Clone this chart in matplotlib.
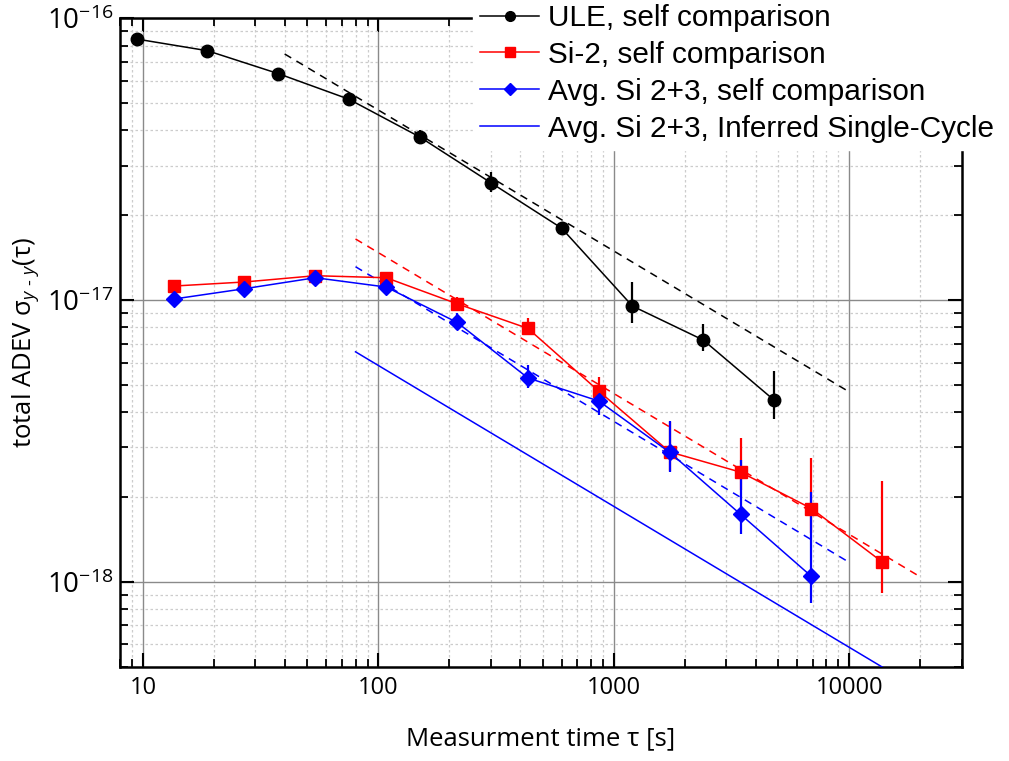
import matplotlib
matplotlib.use("Agg")
import matplotlib.pyplot as plt
import numpy as np
from matplotlib.lines import Line2D
from matplotlib.ticker import LogLocator, FixedLocator, FuncFormatter, NullFormatter

plt.rcParams['font.family'] = ['Open Sans', 'DejaVu Sans']
plt.rcParams['mathtext.fontset'] = 'custom'
plt.rcParams['mathtext.rm'] = 'Open Sans'
plt.rcParams['mathtext.it'] = 'Open Sans:italic'
plt.rcParams['mathtext.bf'] = 'Open Sans:bold'

# ---------------- data ----------------
ule_tau = [9.4, 18.8, 37.6, 75, 150, 300, 600, 1200, 2400, 4800]
ule_adev = [8.44e-17, 7.67e-17, 6.36e-17, 5.16e-17, 3.79e-17, 2.61e-17, 1.80e-17, 9.52e-18, 7.21e-18, 4.41e-18]
ule_lo = [8.44e-17, 7.67e-17, 6.36e-17, 5.05e-17, 3.61e-17, 2.42e-17, 1.715e-17, 8.30e-18, 6.61e-18, 3.78e-18]
ule_hi = [8.44e-17, 7.67e-17, 6.36e-17, 5.28e-17, 4.01e-17, 2.85e-17, 1.89e-17, 1.16e-17, 8.19e-18, 5.60e-18]

si2_tau = [13.5, 27, 54, 108, 216, 432, 864, 1728, 3456, 6912, 13824]
si2_adev = [1.121e-17, 1.159e-17, 1.220e-17, 1.200e-17, 9.70e-18, 7.93e-18, 4.75e-18, 2.89e-18, 2.45e-18, 1.82e-18, 1.175e-18]
si2_lo = [1.121e-17, 1.159e-17, 1.220e-17, 1.200e-17, 9.37e-18, 7.51e-18, 4.35e-18, 2.48e-18, 2.12e-18, 1.485e-18, 9.1e-19]
si2_hi = [1.121e-17, 1.159e-17, 1.220e-17, 1.200e-17, 1.027e-17, 8.61e-18, 5.32e-18, 3.70e-18, 3.23e-18, 2.75e-18, 2.28e-18]

avg_tau = [13.5, 27, 54, 108, 216, 432, 864, 1728, 3456, 6912]
avg_adev = [1.008e-17, 1.097e-17, 1.200e-17, 1.112e-17, 8.33e-18, 5.29e-18, 4.38e-18, 2.88e-18, 1.735e-18, 1.045e-18]
avg_lo = [1.008e-17, 1.097e-17, 1.200e-17, 1.112e-17, 7.82e-18, 4.86e-18, 3.91e-18, 2.46e-18, 1.474e-18, 8.38e-19]
avg_hi = [1.008e-17, 1.097e-17, 1.200e-17, 1.112e-17, 8.97e-18, 5.88e-18, 4.79e-18, 3.72e-18, 2.70e-18, 2.09e-18]

# fit lines (endpoints)
ule_fit_tau = [40, 10000]
ule_fit_adev = [7.47e-17, 4.72e-18]
si2_fit_tau = [80, 20000]
si2_fit_adev = [1.647e-17, 1.042e-18]
avg_fit_tau = [80, 9800]
avg_fit_adev = [1.313e-17, 1.184e-18]
single_tau = [80, 20000]
single_adev = [6.55e-18, 4.14e-19]

labels = ["ULE, self comparison", "Si-2, self comparison",
          "Avg. Si 2+3, self comparison", "Avg. Si 2+3, Inferred Single-Cycle"]

x_ticks = [10, 100, 1000, 10000]
x_tick_labels = ["10", "100", "1000", "10000"]
y_ticks = [1e-18, 1e-17, 1e-16]
y_tick_labels = [r"$10^{-18}$", r"$10^{-17}$", r"$10^{-16}$"]

# ---------------- plot ----------------
fig = plt.figure(figsize=(10.09, 7.61), dpi=100)
ax = fig.add_axes([0.119, 0.124, 0.834, 0.852])
ax.set_xscale('log')
ax.set_yscale('log')
ax.set_xlim(8, 30000)
ax.set_ylim(5e-19, 1e-16)

def yerr(v, lo, hi):
    v = np.array(v); return [v - np.array(lo), np.array(hi) - v]

ax.errorbar(ule_tau, ule_adev, yerr=yerr(ule_adev, ule_lo, ule_hi), fmt='-o', color='black',
            ms=9, lw=1.1, elinewidth=1.6, capsize=0, zorder=5)
ax.errorbar(si2_tau, si2_adev, yerr=yerr(si2_adev, si2_lo, si2_hi), fmt='-s', color='#ff0000',
            ms=8, lw=1.1, elinewidth=1.6, capsize=0, zorder=4)
ax.errorbar(avg_tau, avg_adev, yerr=yerr(avg_adev, avg_lo, avg_hi), fmt='-D', color='#0000ff',
            ms=8.5, lw=1.1, elinewidth=1.6, capsize=0, zorder=4)

ax.plot(ule_fit_tau, ule_fit_adev, ls=(0, (5, 4)), color='black', lw=1.1, zorder=3)
ax.plot(si2_fit_tau, si2_fit_adev, ls=(0, (5, 4)), color='#ff0000', lw=1.1, zorder=3)
ax.plot(avg_fit_tau, avg_fit_adev, ls=(0, (5, 4)), color='#0000ff', lw=1.1, zorder=3)
ax.plot(single_tau, single_adev, ls='-', color='#0000ff', lw=1.1, zorder=3)

# grid
ax.set_axisbelow(True)
ax.grid(which='major', color='#8a8a8a', lw=1.0, ls='-')
ax.grid(which='minor', color='#cccccc', lw=0.9, ls=(0, (2, 2)))

ax.xaxis.set_major_locator(FixedLocator(x_ticks))
ax.xaxis.set_major_formatter(FuncFormatter(lambda v, p: x_tick_labels[x_ticks.index(v)] if v in x_ticks else ""))
ax.xaxis.set_minor_locator(LogLocator(base=10, subs=np.arange(2, 10)))
ax.xaxis.set_minor_formatter(NullFormatter())
ax.yaxis.set_major_locator(FixedLocator(y_ticks))
ax.set_yticklabels(y_tick_labels)
ax.yaxis.set_minor_locator(LogLocator(base=10, subs=np.arange(2, 10), numticks=20))
ax.yaxis.set_minor_formatter(NullFormatter())

ax.tick_params(which='both', direction='in', top=True, right=True)
ax.tick_params(which='major', length=10, width=1.5)
ax.tick_params(which='minor', length=6, width=1.3)
ax.tick_params(axis='x', labelsize=17, pad=7)
ax.tick_params(axis='y', labelsize=20, pad=5)
for s in ax.spines.values():
    s.set_linewidth(1.8)

ax.set_xlabel(r"Measurment time τ [s]", fontsize=18.5, labelpad=19)
ax.set_ylabel("total ADEV $\\mathrm{\\sigma}_{y\\ \u2010\\ y}$(τ)", fontsize=18.5, labelpad=4)

handles = [
    Line2D([], [], color='black', marker='o', ms=7, lw=1.1),
    Line2D([], [], color='#ff0000', marker='s', ms=6.5, lw=1.1),
    Line2D([], [], color='#0000ff', marker='D', ms=6.5, lw=1.1),
    Line2D([], [], color='#0000ff', lw=1.1),
]
leg = fig.legend(handles, labels, loc='upper left', bbox_to_anchor=(0.4684, 1.0046),
                 frameon=True, facecolor='white', edgecolor='white', framealpha=1,
                 fancybox=False, prop={'family': 'Liberation Sans', 'size': 21.4},
                 handlelength=2.0, handletextpad=0.27, labelspacing=0.30,
                 borderpad=0.25, borderaxespad=0, numpoints=1)
leg.set_zorder(10)

fig.savefig("out.png", dpi=100)
